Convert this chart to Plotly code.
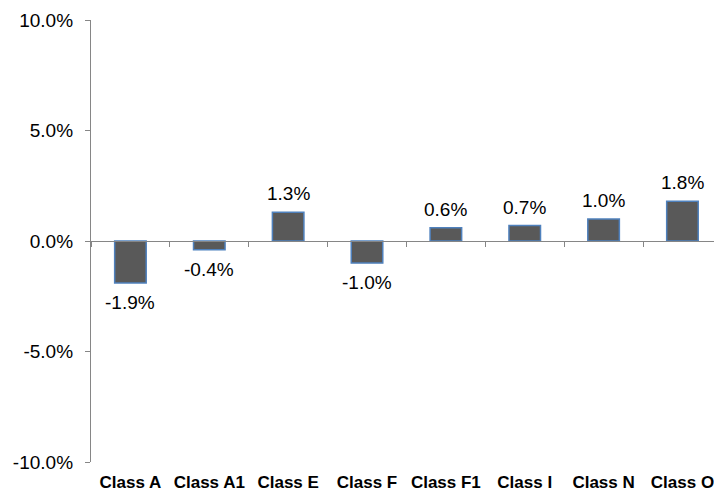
import plotly.graph_objects as go

categories = ["Class A", "Class A1", "Class E", "Class F", "Class F1", "Class I", "Class N", "Class O"]
values = [-1.9, -0.4, 1.3, -1.0, 0.6, 0.7, 1.0, 1.8]
labels = ["-1.9%", "-0.4%", "1.3%", "-1.0%", "0.6%", "0.7%", "1.0%", "1.8%"]
y_ticks = [-10, -5, 0, 5, 10]
y_ticktext = ["-10.0%", "-5.0%", "0.0%", "5.0%", "10.0%"]

idx = list(range(len(categories)))
xr = [-0.5, 7.4]

FONT = "Liberation Sans, Arial"

fig = go.Figure()
fig.add_trace(go.Bar(
    x=idx, y=values, width=0.4,
    marker=dict(color="#595959", line=dict(color="#4F81BD", width=1.5)),
    hoverinfo="skip", showlegend=False,
))
fig.add_trace(go.Scatter(
    x=idx, y=values, xaxis="x2", mode="markers",
    marker=dict(opacity=0), hoverinfo="skip", showlegend=False,
))

for i, v, t in zip(idx, values, labels):
    fig.add_annotation(
        x=i, y=v, text=t, showarrow=False,
        yanchor="bottom" if v >= 0 else "top",
        yshift=6 if v >= 0 else -7,
        font=dict(size=19, color="#000000", family=FONT),
    )

fig.update_layout(
    width=714, height=495,
    margin=dict(l=91, r=0, t=20, b=33),
    paper_bgcolor="white", plot_bgcolor="white",
    font=dict(family=FONT, color="#000000"),
    xaxis=dict(
        range=xr, anchor="free", position=0.5,
        showline=True, linecolor="#868686", linewidth=1.3,
        ticks="outside", ticklen=5, tickcolor="#868686", tickwidth=1.3,
        tickvals=[i - 0.5 for i in range(len(categories) + 1)],
        showticklabels=False, showgrid=False, zeroline=False,
    ),
    xaxis2=dict(
        range=xr, overlaying="x", anchor="y", side="bottom",
        tickvals=idx, ticktext=categories,
        tickfont=dict(size=17, family=FONT, color="#000000", weight="bold"),
        showline=False, showgrid=False, zeroline=False, ticks="",
        ticklabelstandoff=8, ticklabeloverflow="allow",
    ),
    yaxis=dict(
        range=[-10, 10], tickvals=y_ticks, ticktext=y_ticktext,
        showline=True, linecolor="#868686", linewidth=1.3,
        ticks="outside", ticklen=5, tickcolor="#868686", tickwidth=1.3,
        tickfont=dict(size=19, family=FONT, color="#000000"),
        showgrid=False, zeroline=False, ticklabelstandoff=8,
    ),
)

fig.write_html(
    "out.html",
    config={"displayModeBar": False},
    post_script="document.body.style.margin='0';document.documentElement.style.overflow='hidden';",
)
